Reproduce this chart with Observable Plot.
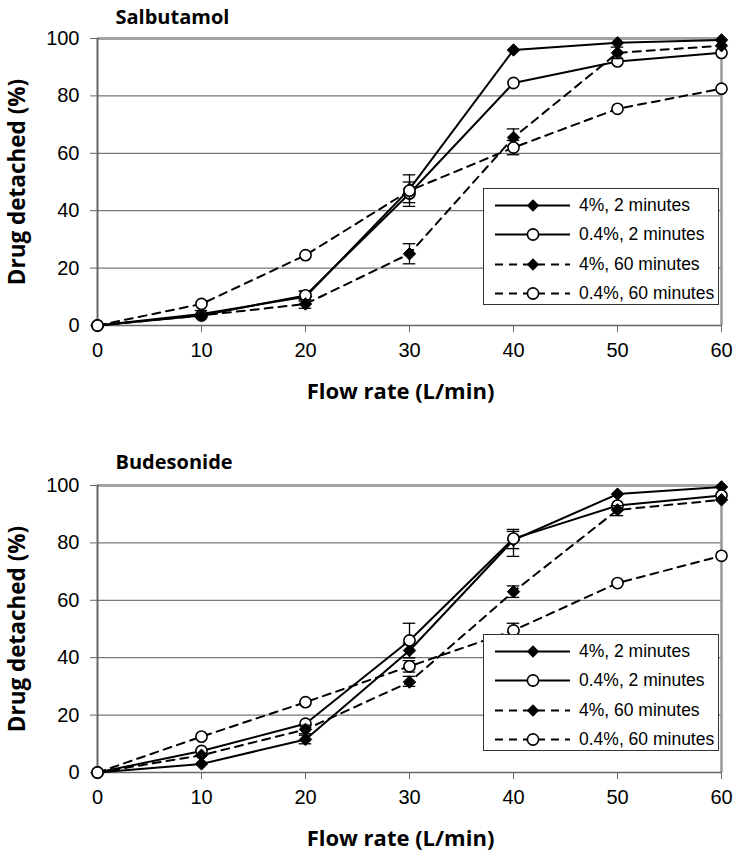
<!DOCTYPE html>
<html>
<head>
<meta charset="utf-8">
<script src="https://cdn.jsdelivr.net/npm/d3@7"></script>
<script src="https://cdn.jsdelivr.net/npm/@observablehq/plot@0.6"></script>
<style>
  body { margin: 0; background: #fff; }
  #wrap { position: relative; width: 739px; height: 858px; }
  #wrap svg { display: block; }
  .legend { position: absolute; left: 483px; width: 236px; height: 117px; border: 1px solid #333; background: #fff; box-sizing: border-box; font-family: "Liberation Sans", Arial, sans-serif; font-size: 17.5px; color: #000; }
  .legend .row { position: absolute; left: 0; height: 29px; display: flex; align-items: center; }
  .legend .row span { position: absolute; left: 95px; white-space: nowrap; }
</style>
</head>
<body>
<div id="wrap"></div>
<script>
// ---- data ----
const flow = [0, 10, 20, 30, 40, 50, 60];
const seriesNames = ["4%, 2 minutes", "0.4%, 2 minutes", "4%, 60 minutes", "0.4%, 60 minutes"];
const yTicks = [0, 20, 40, 60, 80, 100];

// Salbutamol
const salb4_2   = [0, 4,   10,   47.5, 96,   98.5, 99.5];
const salb04_2  = [0, 3.5, 10.5, 46,   84.5, 92,   95];
const salb4_60  = [0, 3.5, 7.5,  25,   65.5, 95,   97.5];
const salb04_60 = [0, 7.5, 24.5, 47,   62,   75.5, 82.5];
// error bars: [series index, flow, low, high]
const salbErr = [
  [0, 10, 2.8, 5.2], [0, 20, 8.5, 12], [1, 20, 9, 12], [2, 20, 6, 9],
  [1, 30, 41.5, 52.5], [3, 30, 42.8, 50], [2, 30, 21.5, 28.5],
  [2, 40, 62.5, 68.5], [3, 40, 59.5, 64.5], [2, 50, 93, 97]
];

// Budesonide
const bude4_2   = [0, 3,    11.5, 42.5, 81,   97,   99.5];
const bude04_2  = [0, 7.5,  17,   46,   81.5, 93,   96.5];
const bude4_60  = [0, 6,    15,   31.5, 63,   91.5, 95];
const bude04_60 = [0, 12.5, 24.5, 37,   49.5, 66,   75.5];
const budeErr = [
  [0, 20, 10, 13], [2, 20, 13.5, 16.5],
  [1, 30, 40, 52], [0, 30, 40, 45], [2, 30, 30, 33.5], [3, 30, 35, 39],
  [0, 40, 78, 84.7], [1, 40, 75.3, 84], [2, 40, 61, 65], [3, 40, 47, 52],
  [2, 50, 89.5, 93]
];

const titleTop = "Salbutamol";
const titleBottom = "Budesonide";
const xLabel = "Flow rate (L/min)";
const yLabel = "Drug detached (%)";

// ---- styles ----
const dashed = [false, false, true, true];
const filled = [true, false, true, false];
const boldFont = "'Open Sans', 'DejaVu Sans', sans-serif";

function chart(title, seriesVals, errs, marginTop, marginBottom, titleDy) {
  const marks = [];
  marks.push(Plot.ruleY([20, 40, 60, 80], {stroke: "#555", strokeWidth: 1}));
  marks.push(Plot.ruleY([100], {stroke: "#a3a3a3", strokeWidth: 3}));
  marks.push(Plot.ruleX([60], {stroke: "#999", strokeWidth: 2.5}));
  marks.push(Plot.ruleX([0], {stroke: "#666", strokeWidth: 2}));
  marks.push(Plot.ruleY([0], {stroke: "#666", strokeWidth: 1.5}));
  marks.push(Plot.axisY({ticks: yTicks, tickSize: 7, tickPadding: 11, stroke: "#666", label: null}));
  marks.push(Plot.axisX({ticks: flow, tickSize: 7, tickPadding: 10, stroke: "#666", label: null}));
  seriesVals.forEach((vals, i) => {
    const rows = flow.map((f, j) => ({x: f, y: vals[j]}));
    marks.push(Plot.line(rows, {x: "x", y: "y", stroke: "black", strokeWidth: 2,
      strokeDasharray: dashed[i] ? "8,6" : null}));
    const eb = errs.filter(e => e[0] === i).map(e => ({x: e[1], lo: e[2], hi: e[3]}));
    marks.push(Plot.ruleX(eb, {x: "x", y1: "lo", y2: "hi", stroke: "black", strokeWidth: 1.3}));
    marks.push(Plot.ruleY(eb, {y: "lo", x1: d => d.x - 0.6, x2: d => d.x + 0.6, stroke: "black", strokeWidth: 1.3}));
    marks.push(Plot.ruleY(eb, {y: "hi", x1: d => d.x - 0.6, x2: d => d.x + 0.6, stroke: "black", strokeWidth: 1.3}));
    marks.push(Plot.dot(rows, {x: "x", y: "y",
      symbol: filled[i] ? "diamond2" : "circle",
      r: 5.6,
      fill: filled[i] ? "black" : "white",
      stroke: "black", strokeWidth: filled[i] ? 1 : 1.6}));
  });
  marks.push(Plot.text([title], {text: d => d, frameAnchor: "top-left", dx: 18, dy: titleDy,
    textAnchor: "start", lineAnchor: "middle", fontWeight: "bold", fontSize: 20, fontFamily: boldFont}));
  marks.push(Plot.text([xLabel], {text: d => d, frameAnchor: "bottom", dx: -9, dy: 66,
    textAnchor: "middle", lineAnchor: "middle", fontWeight: "bold", fontSize: 22, fontFamily: boldFont}));
  marks.push(Plot.text([yLabel], {text: d => d, frameAnchor: "left", dx: -80, rotate: -90,
    textAnchor: "middle", lineAnchor: "middle", fontWeight: "bold", fontSize: 22.5, fontFamily: boldFont}));
  return Plot.plot({
    width: 739, height: 429,
    marginLeft: 97, marginRight: 18, marginTop, marginBottom,
    x: {domain: [0, 60]},
    y: {domain: [0, 100]},
    style: {fontFamily: "'Liberation Sans', Arial, sans-serif", fontSize: "20px", color: "black", background: "white"},
    marks
  });
}

function legend(top) {
  const div = document.createElement("div");
  div.className = "legend";
  div.style.top = top + "px";
  seriesNames.forEach((name, i) => {
    const row = document.createElement("div");
    row.className = "row";
    row.style.top = (2 + i * 29.3) + "px";
    const svg = d3.create("svg").attr("width", 95).attr("height", 29);
    svg.append("line").attr("x1", 11).attr("x2", 86).attr("y1", 14.5).attr("y2", 14.5)
      .attr("stroke", "black").attr("stroke-width", 2)
      .attr("stroke-dasharray", dashed[i] ? "8,6" : null);
    if (filled[i]) {
      svg.append("path").attr("d", "M49,8.3L55.2,14.5L49,20.7L42.8,14.5Z").attr("fill", "black");
    } else {
      svg.append("circle").attr("cx", 49).attr("cy", 14.5).attr("r", 5.6)
        .attr("fill", "white").attr("stroke", "black").attr("stroke-width", 1.6);
    }
    row.appendChild(svg.node());
    const s = document.createElement("span");
    s.textContent = name;
    row.appendChild(s);
    div.appendChild(row);
  });
  return div;
}

const wrap = document.getElementById("wrap");
wrap.appendChild(chart(titleTop, [salb4_2, salb04_2, salb4_60, salb04_60], salbErr, 38, 104, -21));
wrap.appendChild(chart(titleBottom, [bude4_2, bude04_2, bude4_60, bude04_60], budeErr, 56, 86, -23));
wrap.appendChild(legend(188));
wrap.appendChild(legend(634));
</script>
</body>
</html>
